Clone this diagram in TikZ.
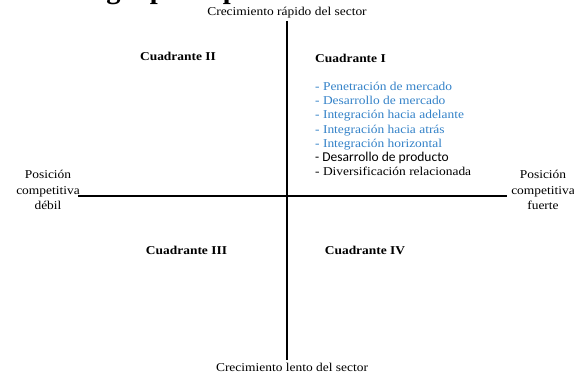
\documentclass[tikz,border=0pt]{standalone}
\usepackage{fontspec}
\setmainfont{Liberation Serif}[FakeStretch=1.12]
\newfontfamily\titlefont{Liberation Serif}
\newfontfamily\sansfnt{Carlito}
\definecolor{listblue}{RGB}{52,130,200}
\begin{document}
\begin{tikzpicture}[x=1pt,y=-1pt,
  lbl/.style={inner sep=0pt, font=\fontsize{12}{15.5}\selectfont},
  quad/.style={inner sep=0pt, font=\fontsize{12}{14}\selectfont\bfseries},
  item/.style={inner sep=0pt, anchor=base west, text=listblue, font=\fontsize{12}{14}\selectfont},
  axisline/.style={line width=1.8pt}]
\useasboundingbox (0,0) rectangle (574,374);
% cropped title (only descenders visible)
\node[anchor=base east, inner sep=0pt, font=\titlefont\fontsize{28.5}{30}\selectfont\bfseries] (title) at (261,-1) {Matriz de la estrategia principal};
% axis end labels
\node[lbl, anchor=base] (top) at (287,16) {Crecimiento rápido del sector};
\node[lbl, anchor=base] (bottom) at (292,372) {Crecimiento lento del sector};
\node[lbl, align=center] (weak) at (48,190) {Posición\\competitiva\\débil};
\node[lbl, align=center] (strong) at (543,190) {Posición\\competitiva\\fuerte};
% axes
\coordinate (vt) at (287,21);
\coordinate (vb) at (287,360);
\coordinate (hl) at (78,196);
\coordinate (hr) at (507,196);
\draw[axisline] (vt) -- (vb);
\draw[axisline] (hl) -- (hr);
% quadrant titles
\node[quad, anchor=base] (q2) at (178,61) {Cuadrante II};
\node[quad, anchor=base west] (q1) at (315,63) {Cuadrante I};
\node[quad, anchor=base] (q3) at (186.5,255) {Cuadrante III};
\node[quad, anchor=base] (q4) at (365,255) {Cuadrante IV};
% strategies of quadrant I
\node[item] (s1) at (315,90.5) {- Penetración de mercado};
\node[item] (s2) at (315,104.7) {- Desarrollo de mercado};
\node[item] (s3) at (315,118.9) {- Integración hacia adelante};
\node[item] (s4) at (315,133.1) {- Integración hacia atrás};
\node[item] (s5) at (315,147.3) {- Integración horizontal};
\node[item, text=black, font=\sansfnt\fontsize{13.5}{14}\selectfont] (s6) at (315,161.5) {- Desarrollo de producto};
\node[item, text=black] (s7) at (315,175.7) {- Diversificación relacionada};
\end{tikzpicture}
\end{document}
